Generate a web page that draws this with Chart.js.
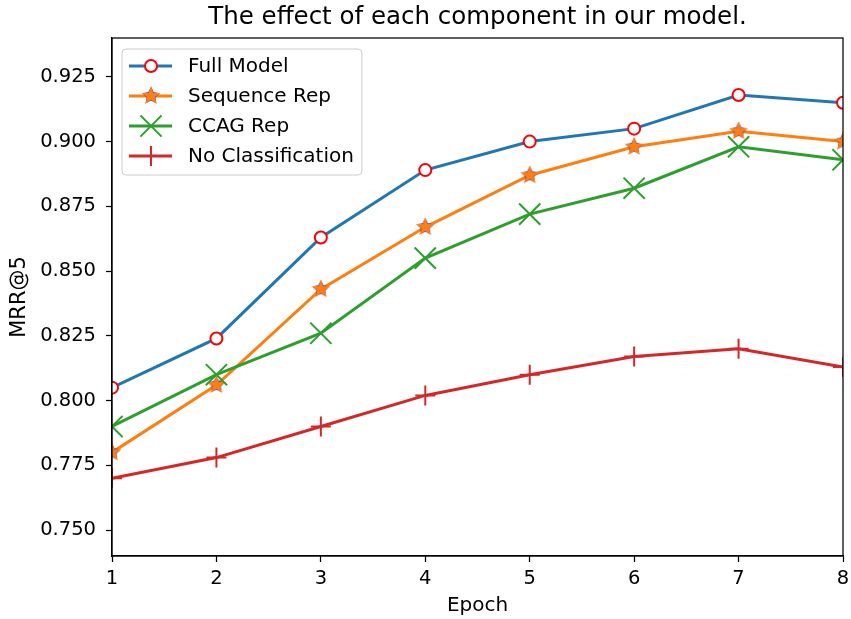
<!DOCTYPE html>
<html>
<head>
<meta charset="utf-8">
<script src="https://cdn.jsdelivr.net/npm/chart.js@4.4.1/dist/chart.umd.min.js"></script>
<style>
    html, body { margin: 0; padding: 0; background: #fff; overflow: hidden; }
    #wrap { width: 851px; height: 619px; }
    canvas { display: block; }
</style>
</head>
<body>
<div id="wrap"><canvas id="chart" width="851" height="619"></canvas></div>
<script>
// datos
const epochs = [1, 2, 3, 4, 5, 6, 7, 8];
const fullModel = [0.805, 0.824, 0.863, 0.889, 0.900, 0.905, 0.918, 0.915];
const sequenceRep = [0.780, 0.806, 0.843, 0.867, 0.887, 0.898, 0.904, 0.900];
const ccagRep = [0.790, 0.810, 0.826, 0.855, 0.872, 0.882, 0.898, 0.893];
const noClassification = [0.770, 0.778, 0.790, 0.802, 0.810, 0.817, 0.820, 0.813];
const yTicks = [0.750, 0.775, 0.800, 0.825, 0.850, 0.875, 0.900, 0.925];
const xTicks = [1, 2, 3, 4, 5, 6, 7, 8];

const FONT = "'DejaVu Sans', 'Liberation Sans', sans-serif";
Chart.defaults.font.family = FONT;
Chart.defaults.color = '#000';

function toPoints(arr) {
    return arr.map((v, i) => ({ x: epochs[i], y: v }));
}

function starPath(g, cx, cy, r, inner) {
    g.beginPath();
    for (let i = 0; i < 10; i++) {
        const rad = i % 2 === 0 ? r : r * inner;
        const a = -Math.PI / 2 + i * Math.PI / 5;
        g.lineTo(cx + rad * Math.cos(a), cy + rad * Math.sin(a));
    }
    g.closePath();
}

// estrella rellena tipo matplotlib '*' con borde azul en los huecos
function makeStar(r) {
    const s = Math.ceil(r * 2 + 4);
    const c = document.createElement('canvas');
    c.width = s; c.height = s;
    const g = c.getContext('2d');
    starPath(g, s / 2, s / 2, r * 0.9, 0.5);
    g.fillStyle = '#0000ff';
    g.fill();
    starPath(g, s / 2, s / 2, r, 0.4);
    g.fillStyle = '#ff7f0e';
    g.fill();
    return c;
}
const starImg = makeStar(10);

// marco completo alrededor del area del grafico
const framePlugin = {
    id: 'frame',
    afterDatasetsDraw(chart) {
        const { ctx, chartArea: a } = chart;
        ctx.save();
        ctx.strokeStyle = '#000';
        ctx.lineWidth = 1.25;
        ctx.strokeRect(a.left, a.top, a.right - a.left, a.bottom - a.top);
        ctx.restore();
    }
};

// leyenda estilo matplotlib dentro del area
const legendPlugin = {
    id: 'mplLegend',
    afterDraw(chart) {
        const { ctx, chartArea: a } = chart;
        const ds = chart.data.datasets;
        const bx = a.left + 10, by = a.top + 11;
        const rowH = 30;
        ctx.save();
        ctx.font = '20px ' + FONT;
        let maxW = 0;
        ds.forEach(d => { maxW = Math.max(maxW, ctx.measureText(d.label).width); });
        const textX = bx + 66;
        const bw = textX - bx + maxW + 8;
        const bh = rowH * ds.length + 6;
        ctx.beginPath();
        ctx.roundRect(bx, by, bw, bh, 4);
        ctx.fillStyle = 'rgba(255,255,255,0.8)';
        ctx.fill();
        ctx.strokeStyle = '#cccccc';
        ctx.lineWidth = 1;
        ctx.stroke();
        ds.forEach((d, i) => {
            const cy = by + 17 + i * rowH;
            ctx.beginPath();
            ctx.moveTo(bx + 7, cy);
            ctx.lineTo(bx + 50, cy);
            ctx.strokeStyle = d.borderColor;
            ctx.lineWidth = d.borderWidth;
            ctx.stroke();
            ctx.strokeStyle = d.pointBorderColor;
            ctx.fillStyle = d.pointBackgroundColor;
            ctx.lineWidth = d.pointBorderWidth;
            Chart.helpers.drawPoint(ctx, {
                pointStyle: d.pointStyle,
                radius: d.pointRadius,
                rotation: 0,
                borderWidth: d.pointBorderWidth
            }, bx + 29, cy);
            ctx.fillStyle = '#000';
            ctx.textBaseline = 'middle';
            ctx.textAlign = 'left';
            ctx.fillText(d.label, textX, cy + 1);
        });
        ctx.restore();
    }
};

new Chart(document.getElementById('chart'), {
    type: 'line',
    data: {
        datasets: [
            {
                label: 'Full Model',
                data: toPoints(fullModel),
                borderColor: '#1f77b4',
                borderWidth: 3,
                pointStyle: 'circle',
                pointRadius: 6,
                pointBorderWidth: 2,
                pointBorderColor: '#ff0000',
                pointBackgroundColor: '#ffffff',
                order: 4
            },
            {
                label: 'Sequence Rep',
                data: toPoints(sequenceRep),
                borderColor: '#ff7f0e',
                borderWidth: 3,
                pointStyle: starImg,
                pointRadius: 10,
                pointBorderWidth: 1,
                pointBorderColor: '#0000ff',
                pointBackgroundColor: '#ff7f0e',
                order: 3
            },
            {
                label: 'CCAG Rep',
                data: toPoints(ccagRep),
                borderColor: '#2ca02c',
                borderWidth: 3,
                pointStyle: 'crossRot',
                pointRadius: 15,
                pointBorderWidth: 2,
                pointBorderColor: '#2ca02c',
                pointBackgroundColor: '#2ca02c',
                order: 2
            },
            {
                label: 'No Classification',
                data: toPoints(noClassification),
                borderColor: '#d62728',
                borderWidth: 3,
                pointStyle: 'cross',
                pointRadius: 10,
                pointBorderWidth: 2,
                pointBorderColor: '#d62728',
                pointBackgroundColor: '#d62728',
                order: 1
            }
        ]
    },
    options: {
        responsive: false,
        animation: false,
        devicePixelRatio: 1,
        layout: { autoPadding: false, padding: { left: 0, right: 8, top: 0, bottom: 0 } },
        elements: { line: { tension: 0 } },
        datasets: { line: { clip: 0 } },
        plugins: {
            legend: { display: false },
            tooltip: { enabled: false },
            title: {
                display: true,
                fullSize: false,
                text: 'The effect of each component in our model.',
                font: { size: 24.5, weight: 'normal' },
                color: '#000',
                padding: { top: 3, bottom: 5.6 }
            }
        },
        scales: {
            x: {
                type: 'linear',
                min: 1,
                max: 8,
                afterBuildTicks: s => { s.ticks = xTicks.map(v => ({ value: v })); },
                afterFit: s => { s.height = 63; s.paddingLeft = 0; s.paddingRight = 0; },
                grid: { drawOnChartArea: false, drawTicks: true, tickLength: 6, tickColor: '#000', tickWidth: 1.25 },
                border: { display: true, color: '#000', width: 1.25 },
                ticks: { font: { size: 19.5 }, padding: 5, maxRotation: 0 },
                title: { display: true, text: 'Epoch', font: { size: 20 }, padding: { top: 0, bottom: 1 } }
            },
            y: {
                type: 'linear',
                min: 0.740,
                max: 0.940,
                afterBuildTicks: s => { s.ticks = yTicks.map(v => ({ value: v })); },
                afterFit: s => { s.width = 112; s.paddingTop = 0; s.paddingBottom = 0; },
                grid: { drawOnChartArea: false, drawTicks: true, tickLength: 6, tickColor: '#000', tickWidth: 1.25 },
                border: { display: true, color: '#000', width: 1.25 },
                ticks: { font: { size: 19.5 }, padding: 10, callback: v => v.toFixed(3) },
                title: { display: true, text: 'MRR@5', font: { size: 21 }, padding: { top: 7, bottom: 0 } }
            }
        }
    },
    plugins: [framePlugin, legendPlugin]
});
</script>
</body>
</html>
